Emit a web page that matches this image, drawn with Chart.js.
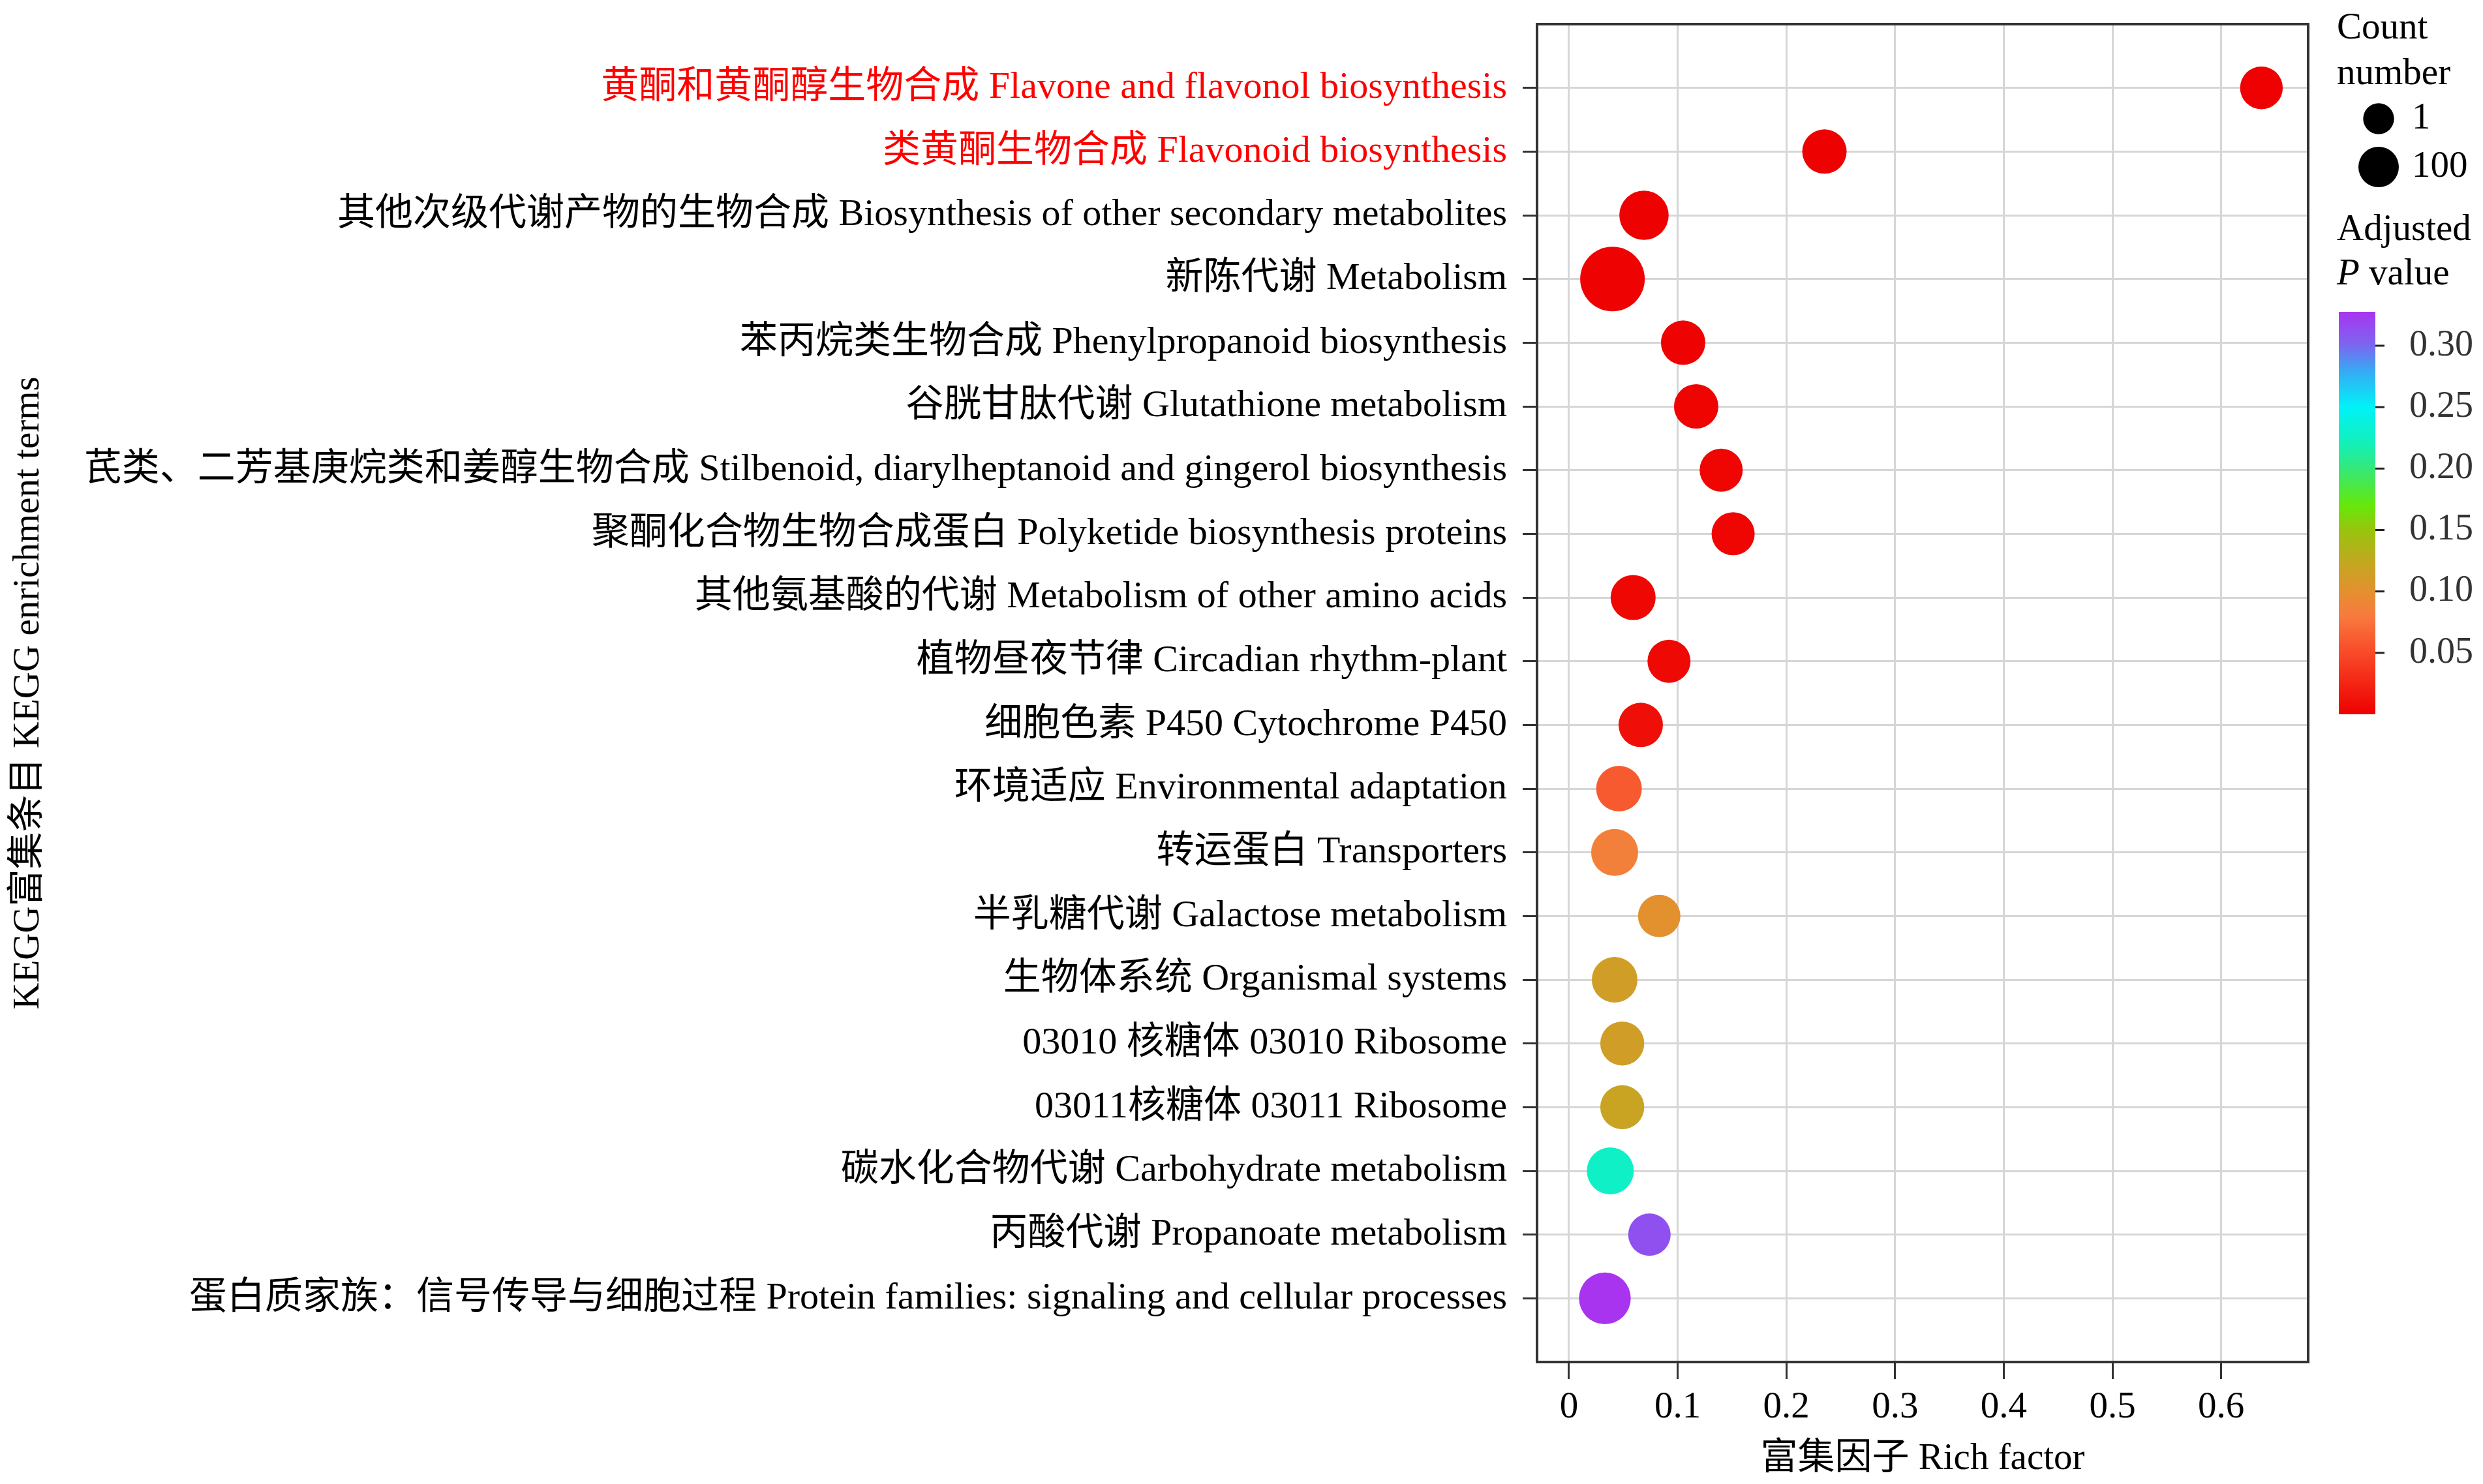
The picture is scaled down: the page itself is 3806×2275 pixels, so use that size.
<!DOCTYPE html>
<html>
<head>
<meta charset="utf-8">
<title>KEGG enrichment bubble chart</title>
<script src="https://cdn.jsdelivr.net/npm/chart.js@4.4.1/dist/chart.umd.min.js"></script>
<style>
  html, body { margin: 0; padding: 0; background: #fff; }
  #wrap { width: 3806px; height: 2275px; position: relative; }
</style>
</head>
<body>
<div id="wrap"><canvas id="bubble"></canvas></div>
<script>
// ---- data (top to bottom) ----
const terms = [
  '黄酮和黄酮醇生物合成 Flavone and flavonol biosynthesis',
  '类黄酮生物合成 Flavonoid biosynthesis',
  '其他次级代谢产物的生物合成 Biosynthesis of other secondary metabolites',
  '新陈代谢 Metabolism',
  '苯丙烷类生物合成 Phenylpropanoid biosynthesis',
  '谷胱甘肽代谢 Glutathione metabolism',
  '芪类、二芳基庚烷类和姜醇生物合成 Stilbenoid, diarylheptanoid and gingerol biosynthesis',
  '聚酮化合物生物合成蛋白 Polyketide biosynthesis proteins',
  '其他氨基酸的代谢 Metabolism of other amino acids',
  '植物昼夜节律 Circadian rhythm-plant',
  '细胞色素 P450 Cytochrome P450',
  '环境适应 Environmental adaptation',
  '转运蛋白 Transporters',
  '半乳糖代谢 Galactose metabolism',
  '生物体系统 Organismal systems',
  '03010 核糖体 03010 Ribosome',
  '03011核糖体 03011 Ribosome',
  '碳水化合物代谢 Carbohydrate metabolism',
  '丙酸代谢 Propanoate metabolism',
  '蛋白质家族：信号传导与细胞过程 Protein families: signaling and cellular processes'
];
const highlighted = [0, 1];   // indices of terms printed in red

const richFactor = [0.637, 0.235, 0.069, 0.040, 0.105, 0.117, 0.140, 0.151, 0.059, 0.092,
                    0.066, 0.046, 0.042, 0.083, 0.042, 0.049, 0.049, 0.038, 0.074, 0.033];
const geneCount  = [152, 198, 370, 1236, 198, 198, 162, 162, 218, 162,
                    198, 238, 282, 145, 238, 187, 187, 282, 145, 476];
const adjP       = [0.0005, 0.001, 0.001, 0.002, 0.002, 0.003, 0.004, 0.004, 0.005, 0.006,
                    0.010, 0.060, 0.085, 0.100, 0.114, 0.114, 0.120, 0.227, 0.313, 0.3276];

const xTicks = [0, 0.1, 0.2, 0.3, 0.4, 0.5, 0.6];
const sizeLegend = [1, 100];
const pTicks = [0.05, 0.10, 0.15, 0.20, 0.25, 0.30];

// ---- styling helpers ----
const FONT = "'Liberation Serif', 'Noto Sans CJK SC', serif";
const colorStops = [
  [0.00, '#ee0000'], [0.05, '#f84a28'], [0.08, '#f87a3e'], [0.10, '#e3902f'],
  [0.12, '#c8a422'], [0.15, '#98c40e'], [0.17, '#66e80a'], [0.20, '#34e878'],
  [0.22, '#14f0b8'], [0.25, '#00f2f8'], [0.28, '#38a8f4'], [0.30, '#7a68f0'],
  [0.3276, '#a834f0']
];
const pMin = 0, pMax = colorStops[colorStops.length - 1][0];

function hexToRgb(h) {
  return [parseInt(h.slice(1, 3), 16), parseInt(h.slice(3, 5), 16), parseInt(h.slice(5, 7), 16)];
}
function colorFor(p) {
  for (let i = 1; i < colorStops.length; i++) {
    const [v1, c1] = colorStops[i];
    const [v0, c0] = colorStops[i - 1];
    if (p <= v1) {
      const t = (p - v0) / (v1 - v0);
      const a = hexToRgb(c0), b = hexToRgb(c1);
      const m = a.map((x, k) => Math.round(x + (b[k] - x) * t));
      return `rgb(${m[0]},${m[1]},${m[2]})`;
    }
  }
  return colorStops[colorStops.length - 1][1];
}
// bubble radius in px from gene count
function radiusFor(n) {
  return 23.7 + 0.734 * Math.sqrt(Math.max(n - 1, 0));
}

// frame + legends (count sizes and colour bar)
const decorations = {
  id: 'decorations',
  afterDraw(chart) {
    const ctx = chart.ctx;
    const a = chart.chartArea;
    ctx.save();
    ctx.strokeStyle = '#333';
    ctx.lineWidth = 4;
    ctx.strokeRect(a.left, a.top, a.right - a.left, a.bottom - a.top);

    const lx = 3582;
    ctx.fillStyle = '#000';
    ctx.textAlign = 'left';
    ctx.textBaseline = 'middle';
    ctx.font = `57px ${FONT}`;
    ctx.fillText('Count', lx, 44);
    ctx.fillText('number', lx, 114);

    const sizeY = [182, 256];
    sizeLegend.forEach((n, i) => {
      ctx.beginPath();
      ctx.arc(3646, sizeY[i], radiusFor(n), 0, Math.PI * 2);
      ctx.fill();
      ctx.fillText(String(n), 3697, sizeY[i]);
    });

    ctx.fillText('Adjusted', lx, 353);
    ctx.font = `italic 57px ${FONT}`;
    ctx.fillText('P', lx, 421);
    const pw = ctx.measureText('P').width;
    ctx.font = `57px ${FONT}`;
    ctx.fillText(' value', lx + pw, 421);

    // colour bar
    const bx = 3585, bw = 56, top = 478, bottom = 1095;
    const grad = ctx.createLinearGradient(0, bottom, 0, top);
    colorStops.forEach(([v, c]) => grad.addColorStop((v - pMin) / (pMax - pMin), c));
    ctx.fillStyle = grad;
    ctx.fillRect(bx, top, bw, bottom - top);

    ctx.strokeStyle = '#222';
    ctx.lineWidth = 3;
    ctx.fillStyle = '#333';
    ctx.font = `56px ${FONT}`;
    pTicks.forEach(v => {
      const y = bottom - (v - pMin) / (pMax - pMin) * (bottom - top);
      ctx.beginPath();
      ctx.moveTo(bx + bw, y);
      ctx.lineTo(bx + bw + 14, y);
      ctx.stroke();
      ctx.fillText(v.toFixed(2), 3693, y);
    });
    ctx.restore();
  }
};

const points = richFactor.map((x, i) => ({ x: x, y: i + 1 }));

new Chart(document.getElementById('bubble'), {
  type: 'scatter',
  data: {
    datasets: [{
      data: points,
      pointRadius: geneCount.map(radiusFor),
      pointHoverRadius: geneCount.map(radiusFor),
      backgroundColor: adjP.map(colorFor),
      borderWidth: 0
    }]
  },
  options: {
    responsive: true,
    maintainAspectRatio: false,
    devicePixelRatio: 1,
    animation: false,
    layout: { autoPadding: false, padding: { top: 37, right: 268, left: 0, bottom: 0 } },
    plugins: { legend: { display: false }, tooltip: { enabled: false } },
    scales: {
      x: {
        type: 'linear',
        min: -0.0294,
        max: 0.68,
        afterBuildTicks: s => { s.ticks = xTicks.map(v => ({ value: v })); },
        afterFit: s => { s.height = 187; s.paddingLeft = 0; s.paddingRight = 0; },
        border: { display: false },
        grid: { color: '#d6d6d6', lineWidth: 3, tickColor: '#333', tickLength: 26, tickWidth: 3 },
        ticks: {
          color: '#000',
          padding: 10,
          maxRotation: 0,
          font: { family: FONT, size: 57 },
          callback: v => String(v)
        },
        title: {
          display: true,
          text: '富集因子 Rich factor',
          color: '#000',
          padding: { top: 0, bottom: 4 },
          font: { family: FONT, size: 57 }
        }
      },
      y: {
        type: 'linear',
        reverse: true,
        min: 0,
        max: 21,
        afterBuildTicks: s => { s.ticks = terms.map((t, i) => ({ value: i + 1 })); },
        afterFit: s => { s.width = 2356; s.paddingTop = 0; s.paddingBottom = 0; },
        border: { display: false },
        grid: { color: '#d6d6d6', lineWidth: 3, tickColor: '#333', tickLength: 22, tickWidth: 3 },
        ticks: {
          padding: 24,
          font: { family: FONT, size: 58 },
          color: c => highlighted.includes(c.index) ? '#ff0000' : '#000',
          callback: (v, i) => terms[i]
        },
        title: {
          display: true,
          text: 'KEGG富集条目 KEGG enrichment terms',
          color: '#000',
          padding: { top: 10, bottom: 0 },
          font: { family: FONT, size: 57 }
        }
      }
    }
  },
  plugins: [decorations]
});
</script>
</body>
</html>
